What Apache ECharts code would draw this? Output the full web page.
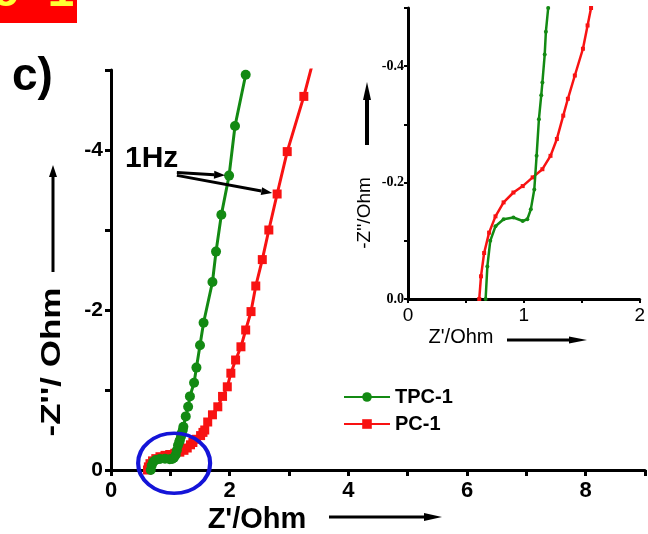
<!DOCTYPE html>
<html>
<head>
<meta charset="utf-8">
<script src="https://cdn.jsdelivr.net/npm/echarts@6/dist/echarts.min.js"></script>
<style>
  html, body { margin: 0; padding: 0; background: #ffffff; }
  #chart { width: 648px; height: 534px; }
</style>
</head>
<body>
<div id="chart"></div>
<script>
// Nyquist plots: [Z' (Ohm), Z'' (Ohm)], from the real-axis intercept towards low frequency
const tpc1 = [
  [0.67, 0], [0.685, -0.056], [0.71, -0.10], [0.755, -0.125], [0.825, -0.137],
  [0.91, -0.14], [0.99, -0.134], [1.03, -0.137], [1.06, -0.154], [1.09, -0.188],
  [1.11, -0.246], [1.13, -0.309], [1.15, -0.35], [1.16, -0.372], [1.18, -0.42],
  [1.19, -0.459], [1.21, -0.50], [1.22, -0.54], [1.26, -0.67], [1.30, -0.79],
  [1.33, -0.92], [1.40, -1.09], [1.44, -1.28], [1.50, -1.56], [1.56, -1.84],
  [1.71, -2.35], [1.77, -2.73], [1.86, -3.19], [1.99, -3.68], [2.09, -4.30],
  [2.27, -4.94]
];
const pc1 = [
  [0.615, 0], [0.63, -0.039], [0.657, -0.079], [0.70, -0.114], [0.755, -0.142],
  [0.825, -0.166], [0.91, -0.183], [0.99, -0.194], [1.076, -0.209], [1.16, -0.223],
  [1.23, -0.246], [1.285, -0.275], [1.34, -0.315], [1.38, -0.344], [1.44, -0.384],
  [1.51, -0.43], [1.55, -0.47], [1.58, -0.50], [1.63, -0.60], [1.71, -0.69],
  [1.80, -0.79], [1.88, -0.92], [1.96, -1.04], [2.02, -1.21], [2.10, -1.375],
  [2.19, -1.54], [2.27, -1.75], [2.36, -1.98], [2.44, -2.30], [2.55, -2.63],
  [2.66, -3.00], [2.80, -3.45], [2.97, -3.98], [3.25, -4.67], [3.42, -5.15]
];
const seriesNames = ['TPC-1', 'PC-1'];

// 1 Hz points and the tail of the annotation arrows
const oneHzTPC = [1.99, -3.68];
const oneHzPC = [2.80, -3.45];
const hzArrowTail = [1.11, -3.72];
// highlighted high-frequency region (magnified in the inset)
const hfRegionCenter = [1.064, -0.084];

const GREEN = '#138a13';
const RED = '#f81212';
const SANS = '"Liberation Sans", Arial, sans-serif';
const SERIF = '"Liberation Serif", "Times New Roman", serif';

const chart = echarts.init(document.getElementById('chart'), null, { renderer: 'canvas' });

const axisLine = { show: true, onZero: false, lineStyle: { color: '#000', width: 3 } };

const option = {
  animation: false,
  backgroundColor: '#ffffff',
  grid: [
    { left: 111, top: 70, width: 537, height: 400 },
    { left: 408, top: 8, width: 239, height: 291 }
  ],
  xAxis: [
    {
      gridIndex: 0, type: 'value', min: 0, max: 9, interval: 1,
      axisLine: axisLine,
      axisTick: { show: true, length: 6, lineStyle: { color: '#000', width: 3 } },
      axisLabel: {
        margin: 10, color: '#000', fontFamily: SANS, fontWeight: 'bold', fontSize: 22,
        formatter: v => (v % 2 === 0 ? String(v) : '')
      },
      splitLine: { show: false }
    },
    {
      gridIndex: 1, type: 'value', min: 0, max: 2, interval: 0.5,
      axisLine: axisLine,
      axisTick: { show: true, length: 4, lineStyle: { color: '#000', width: 2 } },
      axisLabel: {
        margin: 7, color: '#000', fontFamily: SANS, fontSize: 19, showMaxLabel: true,
        formatter: v => (Number.isInteger(v) ? String(v) : '')
      },
      splitLine: { show: false }
    }
  ],
  yAxis: [
    {
      gridIndex: 0, type: 'value', min: -5, max: 0, interval: 1, inverse: true,
      axisLine: axisLine,
      axisTick: { show: true, length: 6, lineStyle: { color: '#000', width: 3 } },
      axisLabel: {
        margin: 8, color: '#000', fontFamily: SANS, fontWeight: 'bold', fontSize: 21,
        formatter: v => (v % 2 === 0 ? String(v) : '')
      },
      splitLine: { show: false }
    },
    {
      gridIndex: 1, type: 'value', min: -0.5, max: 0, interval: 0.1, inverse: true,
      axisLine: axisLine,
      axisTick: { show: true, length: 4, lineStyle: { color: '#000', width: 2 } },
      axisLabel: {
        margin: 4, color: '#000', fontFamily: SERIF, fontWeight: 'bold', fontSize: 14,
        formatter: v => (Math.round(v * 10) % 2 === 0 ? Math.abs(v) < 1e-9 ? '0.0' : v.toFixed(1) : '')
      },
      splitLine: { show: false }
    }
  ],
  legend: {
    orient: 'vertical', left: 338, top: 382,
    itemWidth: 46, itemHeight: 12, itemGap: 7,
    data: seriesNames,
    textStyle: { color: '#000', fontFamily: SANS, fontWeight: 'bold', fontSize: 20, padding: [0, 0, 0, 0] }
  },
  series: [
    {
      name: seriesNames[0], type: 'line', xAxisIndex: 0, yAxisIndex: 0, data: tpc1,
      symbol: 'circle', symbolSize: 10, color: GREEN,
      lineStyle: { color: GREEN, width: 3 }, itemStyle: { color: GREEN }, z: 3
    },
    {
      name: seriesNames[1], type: 'line', xAxisIndex: 0, yAxisIndex: 0, data: pc1,
      symbol: 'rect', symbolSize: 9, color: RED,
      lineStyle: { color: RED, width: 3 }, itemStyle: { color: RED }, z: 2
    },
    {
      name: seriesNames[0], type: 'line', xAxisIndex: 1, yAxisIndex: 1, data: tpc1,
      symbol: 'circle', symbolSize: 4, color: GREEN,
      lineStyle: { color: GREEN, width: 2.5 }, itemStyle: { color: GREEN }, z: 3
    },
    {
      name: seriesNames[1], type: 'line', xAxisIndex: 1, yAxisIndex: 1, data: pc1,
      symbol: 'rect', symbolSize: 4, color: RED,
      lineStyle: { color: RED, width: 2.5 }, itemStyle: { color: RED }, z: 2
    }
  ]
};
chart.setOption(option);

// Straight arrow with a filled triangular head
function arrow(x1, y1, x2, y2, width, headLen, headHalf) {
  const dx = x2 - x1, dy = y2 - y1;
  const len = Math.sqrt(dx * dx + dy * dy);
  const ux = dx / len, uy = dy / len;
  const bx = x2 - ux * headLen, by = y2 - uy * headLen;
  return [
    { type: 'line', z: 20, shape: { x1: x1, y1: y1, x2: bx, y2: by },
      style: { stroke: '#000', lineWidth: width } },
    { type: 'polygon', z: 20,
      shape: { points: [[x2, y2], [bx - uy * headHalf, by + ux * headHalf], [bx + uy * headHalf, by - ux * headHalf]] },
      style: { fill: '#000' } }
  ];
}

function toward(from, to, back) {
  const dx = to[0] - from[0], dy = to[1] - from[1];
  const len = Math.sqrt(dx * dx + dy * dy);
  return [to[0] - dx / len * back, to[1] - dy / len * back];
}

const tail = chart.convertToPixel({ gridIndex: 0 }, hzArrowTail);
const pTPC = chart.convertToPixel({ gridIndex: 0 }, oneHzTPC);
const pPC = chart.convertToPixel({ gridIndex: 0 }, oneHzPC);
const endTPC = toward(tail, pTPC, 4);
const endPC = toward([tail[0], tail[1] + 3], pPC, 5);
const hf = chart.convertToPixel({ gridIndex: 0 }, hfRegionCenter);

const graphics = [
  // panel tag
  { type: 'rect', z: 30, shape: { x: 0, y: 0, width: 77, height: 23 }, style: { fill: '#ff0000' } },
  { type: 'text', z: 31, x: -8, y: 17,
    style: { text: 'c-1', fill: '#ffff33', font: 'bold 46px "Liberation Mono", "Courier New", monospace',
             textAlign: 'left', textVerticalAlign: 'bottom', verticalAlign: 'bottom' } },
  // panel letter
  { type: 'text', z: 30, x: 12, y: 77,
    style: { text: 'c)', fill: '#000', font: 'bold 46px ' + SANS, textAlign: 'left', verticalAlign: 'middle' } },
  // 1 Hz annotation
  { type: 'text', z: 30, x: 125, y: 159,
    style: { text: '1Hz', fill: '#000', font: 'bold 30px ' + SANS, textAlign: 'left', verticalAlign: 'middle' } },
  ...arrow(tail[0], tail[1], endTPC[0], endTPC[1], 3, 11, 4),
  ...arrow(tail[0], tail[1] + 3, endPC[0], endPC[1], 3, 11, 4),
  // high-frequency region marker
  { type: 'circle', z: 25, x: hf[0], y: hf[1], scaleX: 36 / 30, scaleY: 1,
    shape: { cx: 0, cy: 0, r: 30 }, style: { fill: 'none', stroke: '#1414d8', lineWidth: 3.5 } },
  // main axis titles
  { type: 'text', z: 30, x: 257, y: 520,
    style: { text: "Z'/Ohm", fill: '#000', font: 'bold 29px ' + SANS, textAlign: 'center', verticalAlign: 'middle' } },
  ...arrow(329, 517, 442, 517, 3, 18, 4),
  { type: 'text', z: 30, x: 52, y: 362, rotation: Math.PI / 2, scaleX: 1.25,
    style: { text: "-Z''/ Ohm", fill: '#000', font: 'bold 28px ' + SANS, textAlign: 'center', verticalAlign: 'middle' } },
  ...arrow(53, 272, 53, 165, 3, 12, 4),
  // inset axis titles
  { type: 'text', z: 30, x: 461, y: 337,
    style: { text: "Z'/Ohm", fill: '#000', font: '20px ' + SANS, textAlign: 'center', verticalAlign: 'middle' } },
  ...arrow(507, 340, 587, 340, 3, 18, 3.5),
  { type: 'text', z: 30, x: 365, y: 213, rotation: Math.PI / 2,
    style: { text: "-Z''/Ohm", fill: '#000', font: '19px ' + SANS, textAlign: 'center', verticalAlign: 'middle' } },
  ...arrow(367, 145, 367, 82, 4, 18, 4)
];
chart.setOption({ graphic: graphics });
</script>
</body>
</html>
